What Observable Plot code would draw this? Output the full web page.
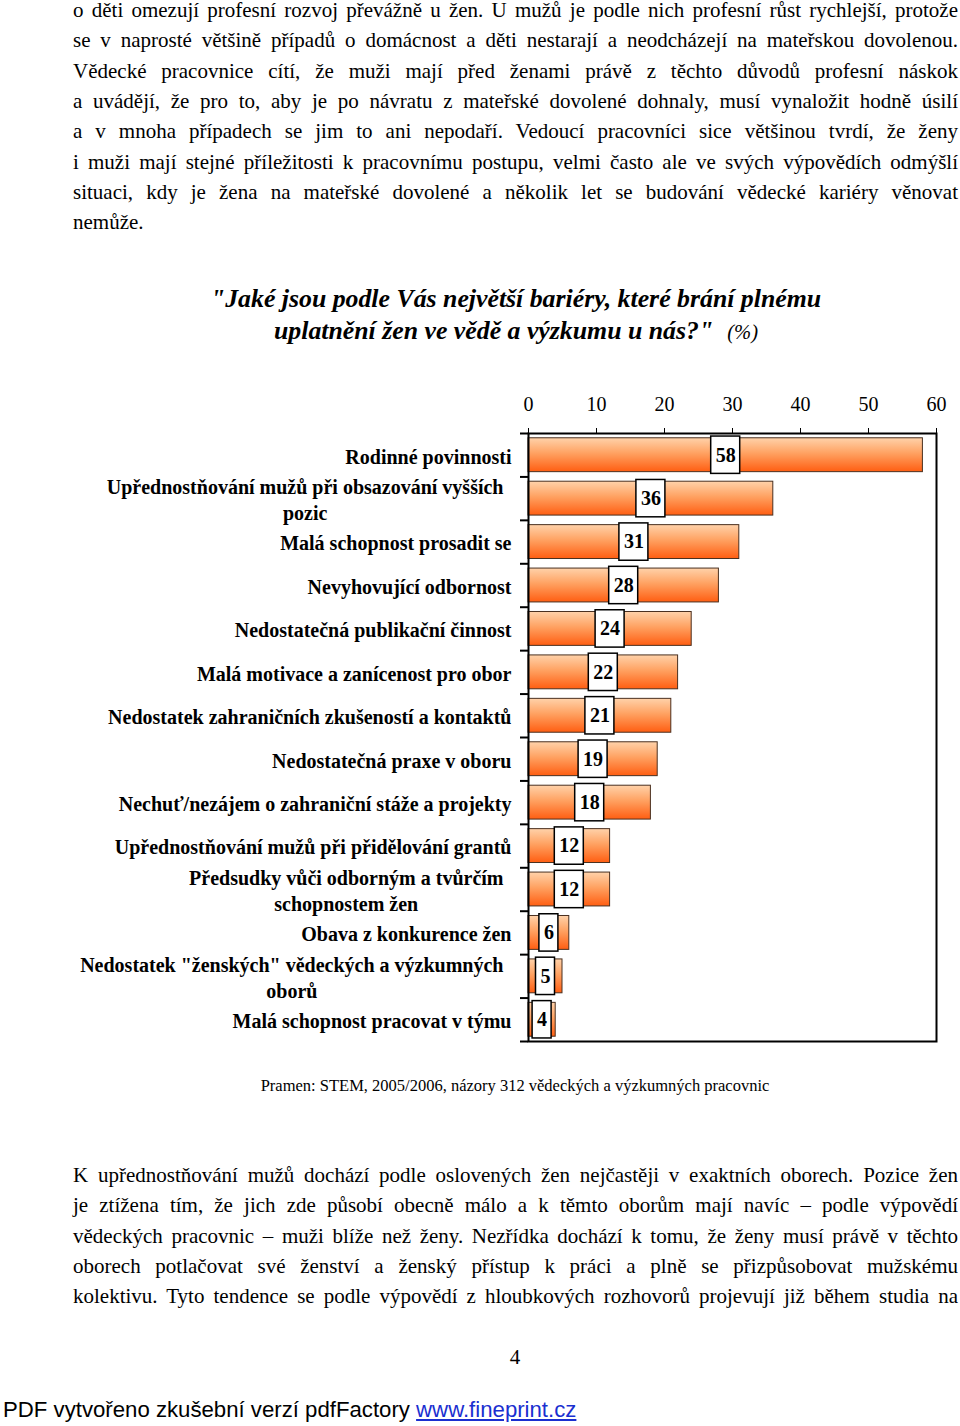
<!DOCTYPE html>
<html><head><meta charset="utf-8">
<script src="https://cdn.jsdelivr.net/npm/d3@7"></script>
<script src="https://cdn.jsdelivr.net/npm/@observablehq/plot@0.6"></script>
<style>
html,body{margin:0;padding:0;background:#fff;}
body{width:960px;height:1426px;position:relative;overflow:hidden;font-family:"Liberation Serif","Times New Roman",serif;color:#000;}
.para{position:absolute;left:73px;width:885px;font-size:21px;line-height:30.33px;}
.para div{white-space:nowrap;height:30.33px;}
.title{position:absolute;left:72px;width:888px;text-align:center;font-weight:bold;font-style:italic;font-size:25.8px;line-height:32px;top:283px;}
.title .pct{font-weight:normal;font-size:20.5px;margin-left:14px;}
.src{position:absolute;left:0;width:1030px;text-align:center;font-size:16.5px;line-height:20px;top:1076px;}
.pageno{position:absolute;left:0;width:1030px;text-align:center;font-size:21px;line-height:30.33px;top:1342px;}
.footer{position:absolute;left:3px;top:1397px;font-family:"Liberation Sans",Arial,sans-serif;font-size:22.2px;line-height:26px;white-space:nowrap;}
.footer a{color:#1a2fd0;text-decoration:underline;}
#chart{position:absolute;left:0;top:380px;}
</style>
</head><body>
<div class="para" id="p1" style="top:-5px">
<div class="j">o děti omezují profesní rozvoj převážně u žen. U mužů je podle nich profesní růst rychlejší, protože</div>
<div class="j">se v naprosté většině případů o domácnost a děti nestarají a neodcházejí na mateřskou dovolenou.</div>
<div class="j">Vědecké pracovnice cítí, že muži mají před ženami právě z těchto důvodů profesní náskok</div>
<div class="j">a uvádějí, že pro to, aby je po návratu z mateřské dovolené dohnaly, musí vynaložit hodně úsilí</div>
<div class="j">a v mnoha případech se jim to ani nepodaří. Vedoucí pracovníci sice většinou tvrdí, že ženy</div>
<div class="j">i muži mají stejné příležitosti k pracovnímu postupu, velmi často ale ve svých výpovědích odmýšlí</div>
<div class="j">situaci, kdy je žena na mateřské dovolené a několik let se budování vědecké kariéry věnovat</div>
<div>nemůže.</div>
</div>

<div class="title"><div>"Jaké jsou podle Vás největší bariéry, které brání plnému</div><div>uplatnění žen ve vědě a výzkumu u nás?"<span class="pct">(%)</span></div></div>

<div id="chart"></div>

<div class="src">Pramen: STEM, 2005/2006, názory 312 vědeckých a výzkumných pracovnic</div>

<div class="para" id="p2" style="top:1160px">
<div class="j">K upřednostňování mužů dochází podle oslovených žen nejčastěji v exaktních oborech. Pozice žen</div>
<div class="j">je ztížena tím, že jich zde působí obecně málo a k těmto oborům mají navíc – podle výpovědí</div>
<div class="j">vědeckých pracovnic – muži blíže než ženy. Nezřídka dochází k tomu, že ženy musí právě v těchto</div>
<div class="j">oborech potlačovat své ženství a ženský přístup k práci a plně se přizpůsobovat mužskému</div>
<div class="j">kolektivu. Tyto tendence se podle výpovědí z hloubkových rozhovorů projevují již během studia na</div>
</div>

<div class="pageno">4</div>
<div class="footer">PDF vytvořeno zkušební verzí pdfFactory <a>www.fineprint.cz</a></div>

<script>
// ---- data ----
const categories = [
  "Rodinné povinnosti",
  "Upřednostňování mužů při obsazování vyšších\npozic",
  "Malá schopnost prosadit se",
  "Nevyhovující odbornost",
  "Nedostatečná publikační činnost",
  "Malá motivace a zanícenost pro obor",
  "Nedostatek zahraničních zkušeností a kontaktů",
  "Nedostatečná praxe v oboru",
  "Nechuť/nezájem o zahraniční stáže a projekty",
  "Upřednostňování mužů při přidělování grantů",
  "Předsudky vůči odborným a tvůrčím\nschopnostem žen",
  "Obava z konkurence žen",
  "Nedostatek \"ženských\" vědeckých a výzkumných\noborů",
  "Malá schopnost pracovat v týmu"
];
const values = [58, 36, 31, 28, 24, 22, 21, 19, 18, 12, 12, 6, 5, 4];
const xTicks = [0, 10, 20, 30, 40, 50, 60];

const data = categories.map((label, i) => ({label, value: values[i], i}));
const boundaries = d3.range(categories.length + 1).map(k => k - 0.5);

const W = 960, H = 680, mL = 528, mR = 24, mT = 53, mB = 19;
const pxPerUnit = (W - mL - mR) / (xTicks[xTicks.length - 1] - xTicks[0]);
const tickUnits = 8 / pxPerUnit;
const serif = '"Liberation Serif","Times New Roman",serif';

const chart = Plot.plot({
  width: W, height: H,
  marginLeft: mL, marginRight: mR, marginTop: mT, marginBottom: mB,
  style: {fontFamily: serif, fontSize: "20px", color: "#000", background: "transparent", overflow: "visible"},
  x: {domain: [0, 60], axis: "top", ticks: xTicks, tickSize: 6, tickPadding: 17, label: null},
  y: {domain: [-0.5, categories.length - 0.5], reverse: true, axis: null},
  marks: [
    Plot.rect(data, {x1: 0, x2: "value", y1: d => d.i - 0.39, y2: d => d.i + 0.39,
      fill: "url(#barGrad)", stroke: "#4a3020", strokeWidth: 1}),
    Plot.frame({stroke: "#000", strokeWidth: 2}),
    Plot.ruleY(boundaries, {x1: -tickUnits, x2: 0, stroke: "#000", strokeWidth: 2}),
    Plot.rect(data.filter(d => String(d.value).length > 1), {
      x1: d => d.value / 2, x2: d => d.value / 2, y1: d => d.i - 0.43, y2: d => d.i + 0.43,
      insetLeft: -14.5, insetRight: -14.5, fill: "#fff", stroke: "#000", strokeWidth: 1.5}),
    Plot.rect(data.filter(d => String(d.value).length === 1), {
      x1: d => d.value / 2, x2: d => d.value / 2, y1: d => d.i - 0.43, y2: d => d.i + 0.43,
      insetLeft: -9.5, insetRight: -9.5, fill: "#fff", stroke: "#000", strokeWidth: 1.5}),
    Plot.text(data, {x: d => d.value / 2, y: "i", text: d => String(d.value),
      fontWeight: "bold", fontSize: 20, fill: "#000"}),
    Plot.text(data, {x: 0, y: "i", text: "label", textAnchor: "end", dx: -17,
      fontWeight: "bold", fontSize: 20, lineHeight: 1.3, fill: "#000"})
  ]
});

// gradient definition for bars
const defs = d3.select(chart).insert("defs", ":first-child");
const grad = defs.append("linearGradient").attr("id", "barGrad")
  .attr("x1", 0).attr("y1", 0).attr("x2", 0).attr("y2", 1);
grad.append("stop").attr("offset", "0%").attr("stop-color", "#FFD2AA");
grad.append("stop").attr("offset", "45%").attr("stop-color", "#FFA262");
grad.append("stop").attr("offset", "100%").attr("stop-color", "#FF5E12");

document.getElementById("chart").appendChild(chart);

// center wrapped (multi-line) category labels like the original
chart.querySelectorAll("text").forEach(t => {
  const spans = t.querySelectorAll("tspan");
  if (spans.length > 1) {
    const w = Math.max(...[...spans].map(s => s.getComputedTextLength()));
    t.setAttribute("text-anchor", "middle");
    spans.forEach(s => s.setAttribute("x", -w / 2 - 8));
  }
});

// justify body lines
document.querySelectorAll(".para .j").forEach(div => {
  const span = document.createElement("span");
  span.textContent = div.textContent;
  div.textContent = "";
  div.appendChild(span);
  const w = span.getBoundingClientRect().width;
  const n = (span.textContent.match(/ /g) || []).length;
  if (n > 0) span.style.wordSpacing = ((885 - w) / n) + "px";
});
</script>
</body></html>
